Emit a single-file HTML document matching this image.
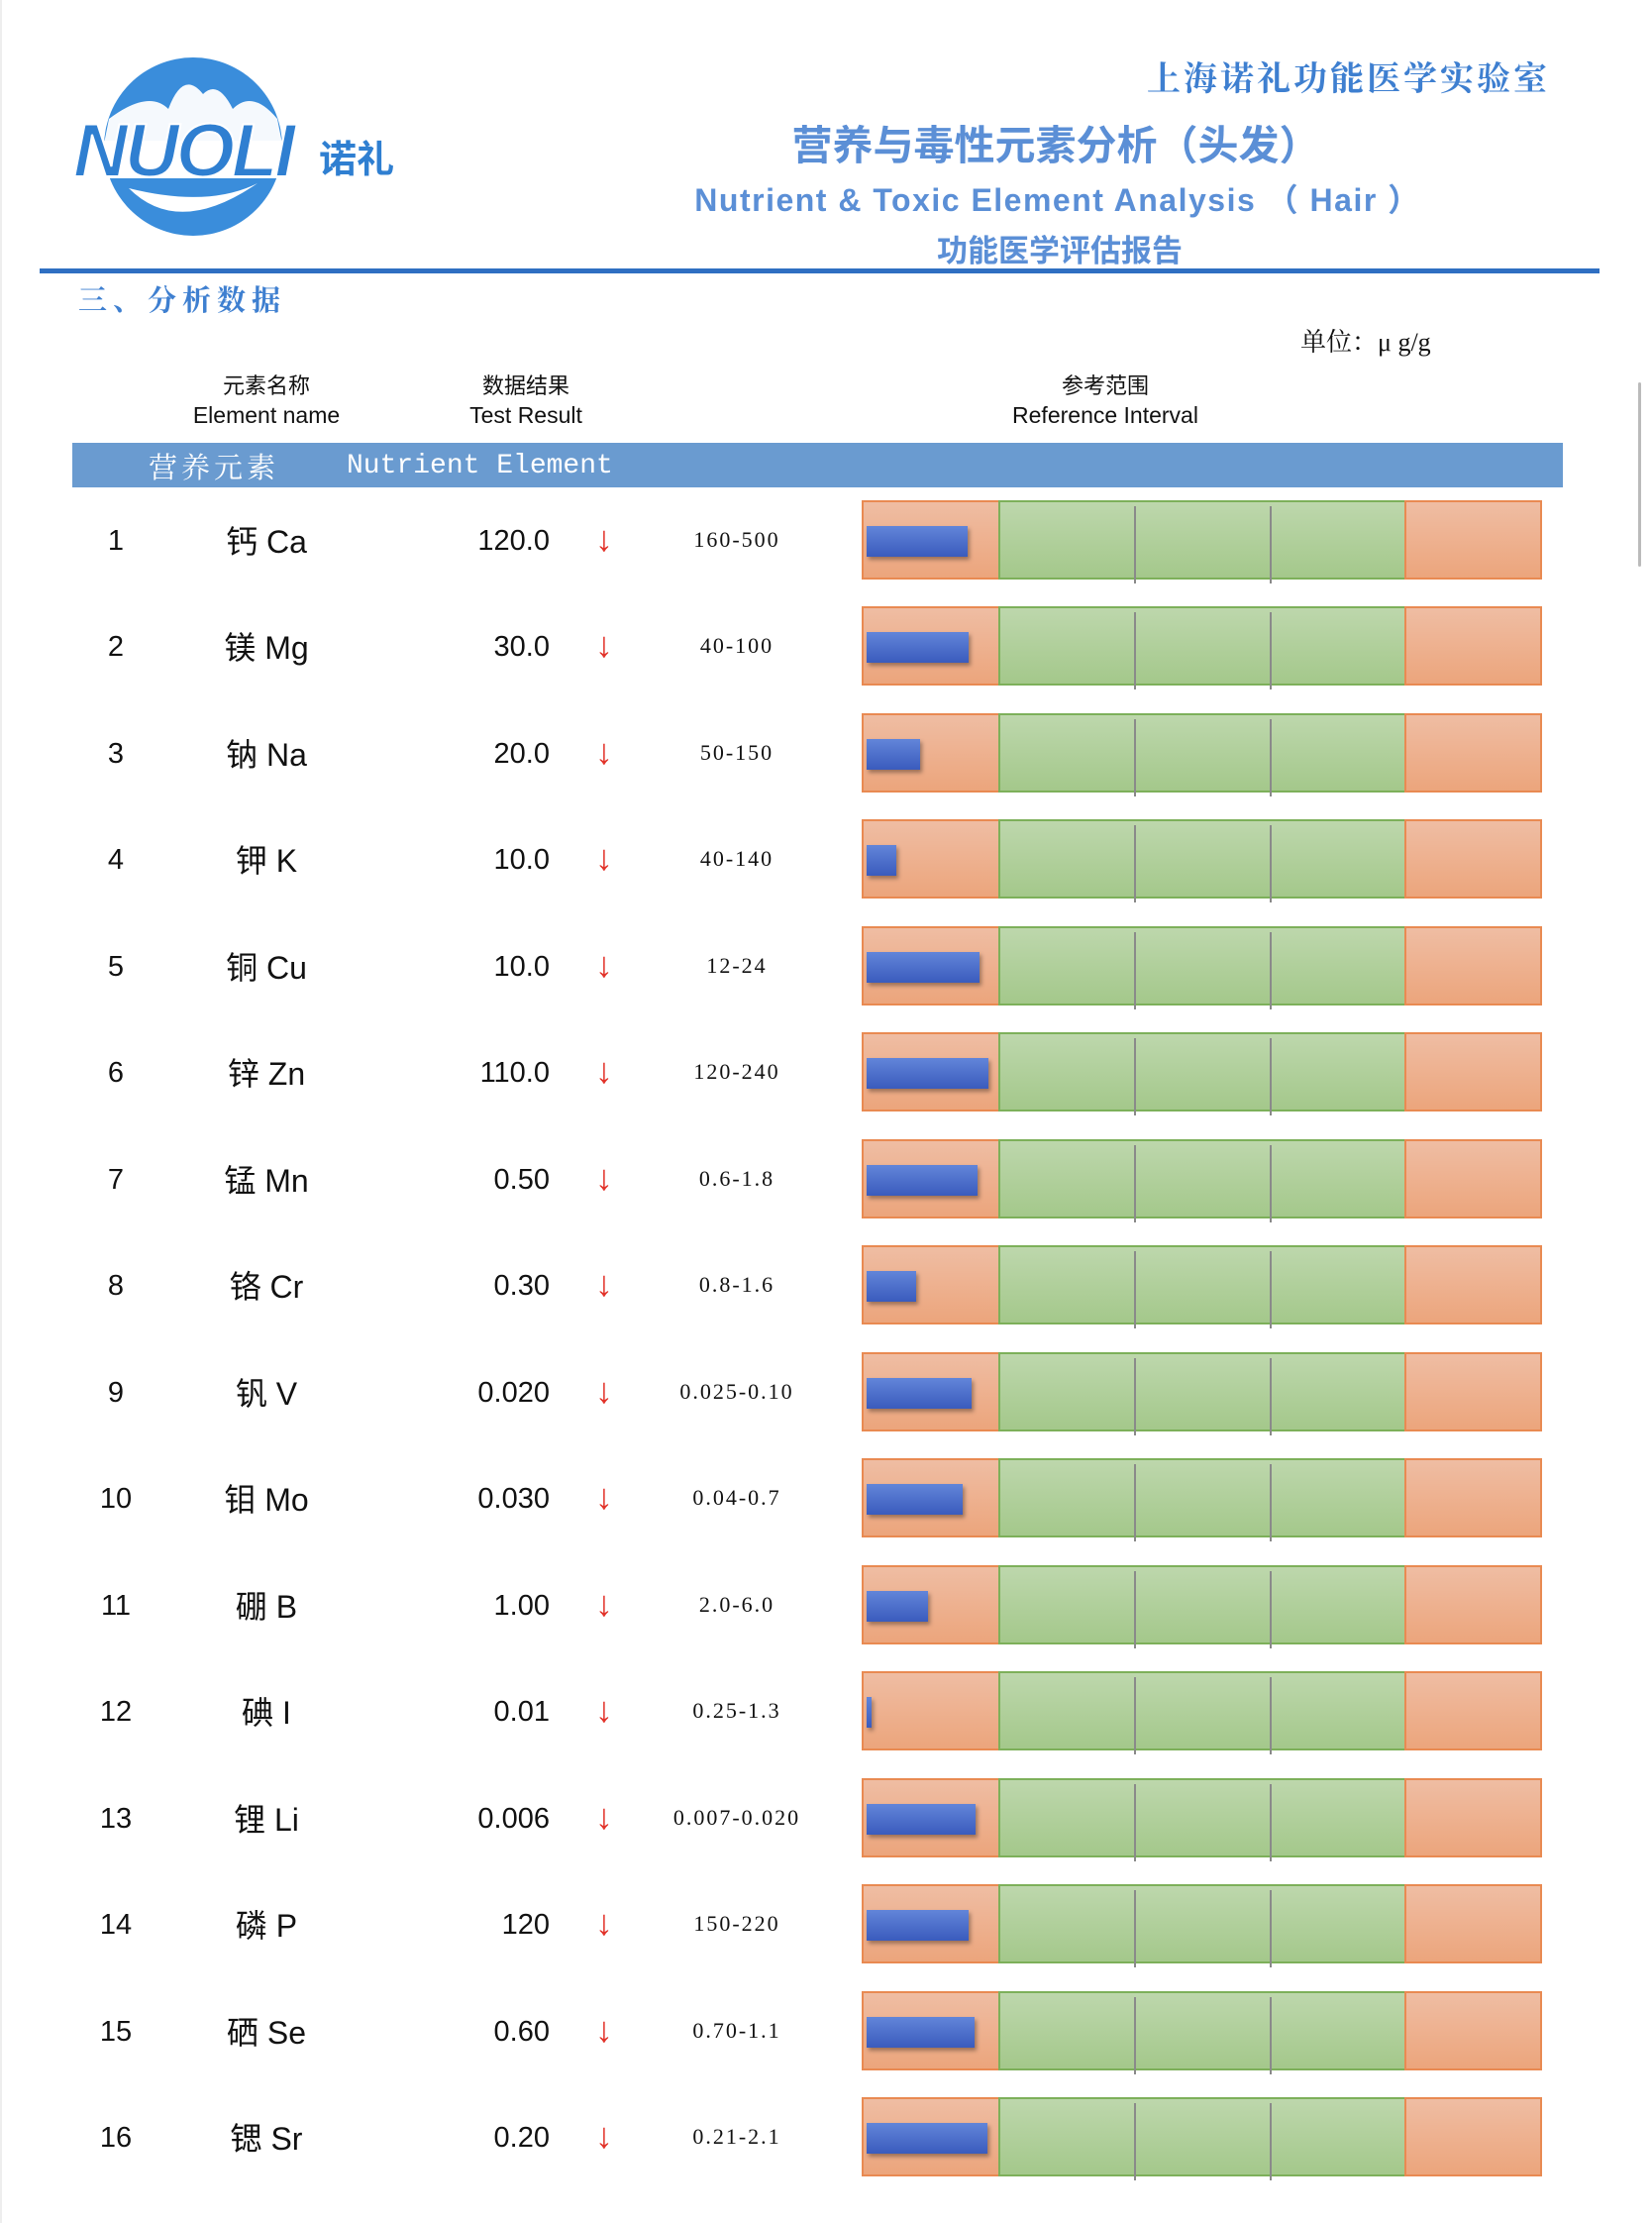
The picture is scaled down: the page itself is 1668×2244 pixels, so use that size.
<!DOCTYPE html>
<html><head><meta charset="utf-8">
<style>
*{margin:0;padding:0;box-sizing:border-box}
body{width:1668px;height:2244px;background:#fff;position:relative;overflow:hidden;font-family:"Liberation Sans","Noto Sans CJK SC",sans-serif;color:#111}
.a{position:absolute;white-space:nowrap}
.c{transform:translateX(-50%)}
.row{position:absolute;left:0;width:1668px;height:80px}
.row .n{position:absolute;left:117px;top:25px;font-size:29px;transform:translateX(-50%)}
.row .e{position:absolute;left:269px;top:17px;font-size:32px;transform:translateX(-50%)}
.row .v{position:absolute;right:1113px;top:25px;font-size:29px}
.row .ar{position:absolute;left:601px;top:18px;font-size:36px;color:#e2332a;font-weight:bold}
.row .r{position:absolute;left:744px;top:27px;font-size:22px;font-family:"Liberation Serif","Noto Serif CJK SC",serif;transform:translateX(-50%);letter-spacing:2px}
.chart{position:absolute;left:870px;top:0;width:687px;height:80px}
.o{position:absolute;top:0;height:80px;background:linear-gradient(#efbda3,#eca57c);border:2px solid #e98a52}
.g{position:absolute;top:0;height:80px;background:linear-gradient(#bdd7ac,#a4c88b);border:2px solid #7db05a}
.tk{position:absolute;top:6px;width:2px;height:78px;background:#8a8a8a}
.b{position:absolute;left:5px;top:26px;height:31px;background:linear-gradient(#6285d9,#3a5bbd);box-shadow:2px 3px 4px rgba(0,0,0,.35)}
</style></head><body>
<div class="a" style="left:0;top:0;width:2px;height:2244px;background:#eee"></div>
<div class="a" style="left:1654px;top:386px;width:3px;height:186px;background:#bbb;border-radius:2px"></div>

<svg class="a" style="left:60px;top:50px" width="360" height="200" viewBox="0 0 360 200">
  <circle cx="135" cy="98" r="90" fill="#3a8ddb"/>
  <path d="M50 70 Q90 40 110 60 Q125 20 145 45 Q160 30 175 60 Q195 40 220 70 L225 95 L45 95 Z" fill="#fff" opacity="0.95"/>
  <path d="M40 92 L230 92 L230 130 L40 130 Z" fill="#fff"/>
  <path d="M70 140 Q120 190 200 135 Q150 160 70 140 Z" fill="#fff"/>
  <text x="14" y="128" font-family="Liberation Sans" font-weight="bold" font-style="italic" font-size="76" fill="#2f7fd1" stroke="#fff" stroke-width="2" letter-spacing="-3">NUOLI</text>
  <text x="262" y="124" font-family="Noto Sans CJK SC" font-weight="bold" font-size="38" fill="#2f7fd1">诺礼</text>
</svg>

<div class="a" style="right:103px;top:52px;font-size:34px;font-weight:bold;color:#3e7fd0;font-family:'Noto Serif CJK SC',serif;letter-spacing:3px">上海诺礼功能医学实验室</div>
<div class="a c" style="left:1066px;top:113px;font-size:41px;font-weight:bold;color:#5b8fd6;font-family:'Noto Sans CJK SC',sans-serif">营养与毒性元素分析（头发）</div>
<div class="a c" style="left:1068px;top:177px;font-size:32px;font-weight:bold;color:#5b8fd6;letter-spacing:1.5px">Nutrient &amp; Toxic Element Analysis （ Hair ）</div>
<div class="a c" style="left:1070px;top:228px;font-size:31px;font-weight:bold;color:#5b8fd6;font-family:'Noto Sans CJK SC',sans-serif">功能医学评估报告</div>
<div class="a" style="left:40px;top:271px;width:1575px;height:5px;background:#2f6fc2"></div>
<div class="a" style="left:79px;top:281px;font-size:29px;color:#3e7fd0;font-family:'Noto Serif CJK SC',serif;font-weight:bold;letter-spacing:6px">三、分析数据</div>
<div class="a" style="left:1313px;top:325px;font-size:26px;font-family:'Liberation Serif','Noto Serif CJK SC',serif">单位：μ g/g</div>

<div class="a c" style="left:269px;top:372px;font-size:22px">元素名称</div>
<div class="a c" style="left:269px;top:406px;font-size:23px">Element name</div>
<div class="a c" style="left:531px;top:372px;font-size:22px">数据结果</div>
<div class="a c" style="left:531px;top:406px;font-size:23px">Test Result</div>
<div class="a c" style="left:1116px;top:372px;font-size:22px">参考范围</div>
<div class="a c" style="left:1116px;top:406px;font-size:23px">Reference Interval</div>

<div class="a" style="left:73px;top:447px;width:1505px;height:45px;background:#6a9bd0"></div>
<div class="a" style="left:150px;top:450px;font-size:29px;color:#fff;font-family:'Noto Serif CJK SC',serif;letter-spacing:4px">营养元素</div>
<div class="a" style="left:350px;top:455px;font-size:28px;color:#fff;font-family:'Liberation Mono',monospace">Nutrient Element</div>

<div class="row" style="top:505px"><span class="n">1</span><span class="e">钙 Ca</span><span class="v">120.0</span><span class="ar">↓</span><span class="r">160-500</span><div class="chart"><div class="o" style="left:0;width:140px"></div><div class="g" style="left:138px;width:412px"></div><div class="o" style="left:548px;width:139px"></div><div class="tk" style="left:275px"></div><div class="tk" style="left:412px"></div><div class="b" style="width:102px"></div></div></div>
<div class="row" style="top:612px"><span class="n">2</span><span class="e">镁 Mg</span><span class="v">30.0</span><span class="ar">↓</span><span class="r">40-100</span><div class="chart"><div class="o" style="left:0;width:140px"></div><div class="g" style="left:138px;width:412px"></div><div class="o" style="left:548px;width:139px"></div><div class="tk" style="left:275px"></div><div class="tk" style="left:412px"></div><div class="b" style="width:103px"></div></div></div>
<div class="row" style="top:720px"><span class="n">3</span><span class="e">钠 Na</span><span class="v">20.0</span><span class="ar">↓</span><span class="r">50-150</span><div class="chart"><div class="o" style="left:0;width:140px"></div><div class="g" style="left:138px;width:412px"></div><div class="o" style="left:548px;width:139px"></div><div class="tk" style="left:275px"></div><div class="tk" style="left:412px"></div><div class="b" style="width:54px"></div></div></div>
<div class="row" style="top:827px"><span class="n">4</span><span class="e">钾 K</span><span class="v">10.0</span><span class="ar">↓</span><span class="r">40-140</span><div class="chart"><div class="o" style="left:0;width:140px"></div><div class="g" style="left:138px;width:412px"></div><div class="o" style="left:548px;width:139px"></div><div class="tk" style="left:275px"></div><div class="tk" style="left:412px"></div><div class="b" style="width:30px"></div></div></div>
<div class="row" style="top:935px"><span class="n">5</span><span class="e">铜 Cu</span><span class="v">10.0</span><span class="ar">↓</span><span class="r">12-24</span><div class="chart"><div class="o" style="left:0;width:140px"></div><div class="g" style="left:138px;width:412px"></div><div class="o" style="left:548px;width:139px"></div><div class="tk" style="left:275px"></div><div class="tk" style="left:412px"></div><div class="b" style="width:114px"></div></div></div>
<div class="row" style="top:1042px"><span class="n">6</span><span class="e">锌 Zn</span><span class="v">110.0</span><span class="ar">↓</span><span class="r">120-240</span><div class="chart"><div class="o" style="left:0;width:140px"></div><div class="g" style="left:138px;width:412px"></div><div class="o" style="left:548px;width:139px"></div><div class="tk" style="left:275px"></div><div class="tk" style="left:412px"></div><div class="b" style="width:123px"></div></div></div>
<div class="row" style="top:1150px"><span class="n">7</span><span class="e">锰 Mn</span><span class="v">0.50</span><span class="ar">↓</span><span class="r">0.6-1.8</span><div class="chart"><div class="o" style="left:0;width:140px"></div><div class="g" style="left:138px;width:412px"></div><div class="o" style="left:548px;width:139px"></div><div class="tk" style="left:275px"></div><div class="tk" style="left:412px"></div><div class="b" style="width:112px"></div></div></div>
<div class="row" style="top:1257px"><span class="n">8</span><span class="e">铬 Cr</span><span class="v">0.30</span><span class="ar">↓</span><span class="r">0.8-1.6</span><div class="chart"><div class="o" style="left:0;width:140px"></div><div class="g" style="left:138px;width:412px"></div><div class="o" style="left:548px;width:139px"></div><div class="tk" style="left:275px"></div><div class="tk" style="left:412px"></div><div class="b" style="width:50px"></div></div></div>
<div class="row" style="top:1365px"><span class="n">9</span><span class="e">钒 V</span><span class="v">0.020</span><span class="ar">↓</span><span class="r">0.025-0.10</span><div class="chart"><div class="o" style="left:0;width:140px"></div><div class="g" style="left:138px;width:412px"></div><div class="o" style="left:548px;width:139px"></div><div class="tk" style="left:275px"></div><div class="tk" style="left:412px"></div><div class="b" style="width:106px"></div></div></div>
<div class="row" style="top:1472px"><span class="n">10</span><span class="e">钼 Mo</span><span class="v">0.030</span><span class="ar">↓</span><span class="r">0.04-0.7</span><div class="chart"><div class="o" style="left:0;width:140px"></div><div class="g" style="left:138px;width:412px"></div><div class="o" style="left:548px;width:139px"></div><div class="tk" style="left:275px"></div><div class="tk" style="left:412px"></div><div class="b" style="width:97px"></div></div></div>
<div class="row" style="top:1580px"><span class="n">11</span><span class="e">硼 B</span><span class="v">1.00</span><span class="ar">↓</span><span class="r">2.0-6.0</span><div class="chart"><div class="o" style="left:0;width:140px"></div><div class="g" style="left:138px;width:412px"></div><div class="o" style="left:548px;width:139px"></div><div class="tk" style="left:275px"></div><div class="tk" style="left:412px"></div><div class="b" style="width:62px"></div></div></div>
<div class="row" style="top:1687px"><span class="n">12</span><span class="e">碘 I</span><span class="v">0.01</span><span class="ar">↓</span><span class="r">0.25-1.3</span><div class="chart"><div class="o" style="left:0;width:140px"></div><div class="g" style="left:138px;width:412px"></div><div class="o" style="left:548px;width:139px"></div><div class="tk" style="left:275px"></div><div class="tk" style="left:412px"></div><div class="b" style="width:5px"></div></div></div>
<div class="row" style="top:1795px"><span class="n">13</span><span class="e">锂 Li</span><span class="v">0.006</span><span class="ar">↓</span><span class="r">0.007-0.020</span><div class="chart"><div class="o" style="left:0;width:140px"></div><div class="g" style="left:138px;width:412px"></div><div class="o" style="left:548px;width:139px"></div><div class="tk" style="left:275px"></div><div class="tk" style="left:412px"></div><div class="b" style="width:110px"></div></div></div>
<div class="row" style="top:1902px"><span class="n">14</span><span class="e">磷 P</span><span class="v">120</span><span class="ar">↓</span><span class="r">150-220</span><div class="chart"><div class="o" style="left:0;width:140px"></div><div class="g" style="left:138px;width:412px"></div><div class="o" style="left:548px;width:139px"></div><div class="tk" style="left:275px"></div><div class="tk" style="left:412px"></div><div class="b" style="width:103px"></div></div></div>
<div class="row" style="top:2010px"><span class="n">15</span><span class="e">硒 Se</span><span class="v">0.60</span><span class="ar">↓</span><span class="r">0.70-1.1</span><div class="chart"><div class="o" style="left:0;width:140px"></div><div class="g" style="left:138px;width:412px"></div><div class="o" style="left:548px;width:139px"></div><div class="tk" style="left:275px"></div><div class="tk" style="left:412px"></div><div class="b" style="width:109px"></div></div></div>
<div class="row" style="top:2117px"><span class="n">16</span><span class="e">锶 Sr</span><span class="v">0.20</span><span class="ar">↓</span><span class="r">0.21-2.1</span><div class="chart"><div class="o" style="left:0;width:140px"></div><div class="g" style="left:138px;width:412px"></div><div class="o" style="left:548px;width:139px"></div><div class="tk" style="left:275px"></div><div class="tk" style="left:412px"></div><div class="b" style="width:122px"></div></div></div>
</body></html>
